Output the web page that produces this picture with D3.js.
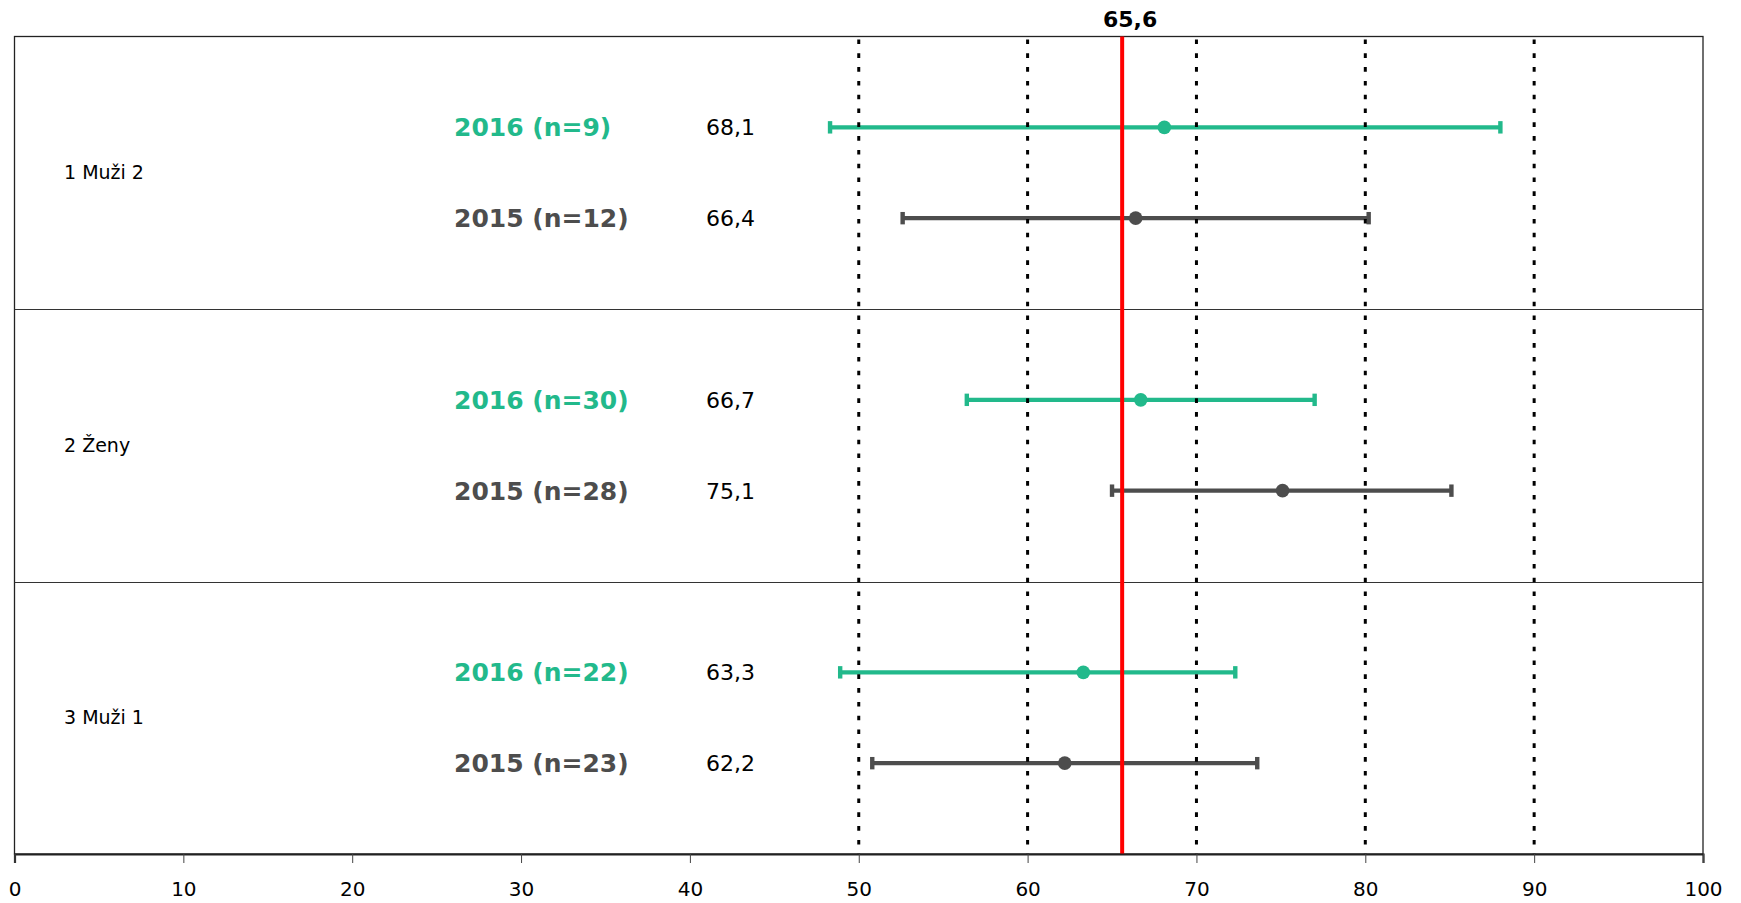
<!DOCTYPE html>
<html><head><meta charset="utf-8">
<script src="https://cdn.jsdelivr.net/npm/d3@7"></script>
<style>
html,body{margin:0;padding:0;background:#fff;}
svg{display:block;font-family:"DejaVu Sans",Verdana,sans-serif;}
</style></head>
<body><svg id="c" width="1741" height="903"></svg>
<script>
// ---- data ----
const groups = ["1 Muži 2", "2 Ženy", "3 Muži 1"];
const years = ["2016", "2015"];
const counts2016 = [9, 30, 22];
const counts2015 = [12, 28, 23];
const mean2016 = [68.1, 66.7, 63.3];
const low2016  = [48.3, 56.4, 48.9];
const high2016 = [88.0, 77.0, 72.3];
const mean2015 = [66.4, 75.1, 62.2];
const low2015  = [52.6, 65.0, 50.8];
const high2015 = [80.2, 85.1, 73.6];
const reference = 65.6;
const gridValues = [50, 60, 70, 80, 90];
const tickValues = [0, 10, 20, 30, 40, 50, 60, 70, 80, 90, 100];

const colors = {"2016": "#22b98b", "2015": "#4d4d4d"};
const fmt = v => d3.format(".1f")(v).replace(".", ",");

const rows = [];
groups.forEach((g, i) => {
  rows.push({group: g, year: "2016", n: counts2016[i], mean: mean2016[i], lo: low2016[i], hi: high2016[i]});
  rows.push({group: g, year: "2015", n: counts2015[i], mean: mean2015[i], lo: low2015[i], hi: high2015[i]});
});

const svg = d3.select("#c");
const L = 14.5, R = 1703, T = 36.5, B = 854;
const x = d3.scaleLinear().domain([0, 100]).range([L, R]);
const yBand = d3.scaleBand().domain(groups).range([T, B]).padding(0);
const ySub = d3.scalePoint().domain(years).range([yBand.bandwidth() / 3, yBand.bandwidth() * 2 / 3]);
const yOf = d => yBand(d.group) + ySub(d.year);

// frame
svg.append("rect").attr("x", L).attr("y", T).attr("width", R - L).attr("height", B - T)
  .attr("fill", "none").attr("stroke", "#222").attr("stroke-width", 1.3);
// band separators
svg.selectAll(".sep").data(groups.slice(1)).join("line")
  .attr("x1", L).attr("x2", R)
  .attr("y1", d => Math.round(yBand(d)) + 0.5).attr("y2", d => Math.round(yBand(d)) + 0.5)
  .attr("stroke", "#333").attr("stroke-width", 1.2);

// group labels
svg.selectAll(".glab").data(groups).join("text")
  .attr("x", 64).attr("y", d => yBand(d) + yBand.bandwidth() / 2)
  .attr("dy", "0.35em").attr("font-size", 19).attr("fill", "#000").text(d => d);

// row labels
svg.selectAll(".rlab").data(rows).join("text")
  .attr("x", 454).attr("y", yOf).attr("dy", "0.36em")
  .attr("font-size", 25).attr("font-weight", "bold")
  .attr("fill", d => colors[d.year])
  .text(d => `${d.year} (n=${d.n})`);
svg.selectAll(".vlab").data(rows).join("text")
  .attr("x", 706).attr("y", yOf).attr("dy", "0.36em")
  .attr("font-size", 22).attr("fill", "#000")
  .text(d => fmt(d.mean));

// error bars
const eb = svg.selectAll(".eb").data(rows).join("g");
eb.append("line")
  .attr("x1", d => x(d.lo)).attr("x2", d => x(d.hi))
  .attr("y1", yOf).attr("y2", yOf)
  .attr("stroke", d => colors[d.year]).attr("stroke-width", 4.3);
eb.append("rect").attr("x", d => x(d.lo) - 2.2).attr("y", d => yOf(d) - 6.2)
  .attr("width", 4.4).attr("height", 12.4).attr("fill", d => colors[d.year]);
eb.append("rect").attr("x", d => x(d.hi) - 2.2).attr("y", d => yOf(d) - 6.2)
  .attr("width", 4.4).attr("height", 12.4).attr("fill", d => colors[d.year]);

// dotted grid
svg.selectAll(".grid").data(gridValues).join("line")
  .attr("x1", d => x(d)).attr("x2", d => x(d))
  .attr("y1", T + 3).attr("y2", B)
  .attr("stroke", "#000").attr("stroke-width", 3)
  .attr("stroke-dasharray", "4.6,9.2");

// reference line
svg.append("line").attr("x1", x(reference)).attr("x2", x(reference))
  .attr("y1", T).attr("y2", B).attr("stroke", "#ff0000").attr("stroke-width", 4);
svg.append("text").attr("x", x(reference) + 8).attr("y", 19).attr("dy", "0.35em")
  .attr("text-anchor", "middle").attr("font-size", 22).attr("font-weight", "bold")
  .text(fmt(reference));

// markers
svg.selectAll(".mk").data(rows).join("circle")
  .attr("cx", d => x(d.mean)).attr("cy", yOf).attr("r", 6.8)
  .attr("fill", d => colors[d.year]);

// x axis
const ax = svg.append("g").attr("transform", `translate(0,${B})`)
  .call(d3.axisBottom(x).tickValues(tickValues).tickSize(9).tickPadding(19).tickFormat(d3.format("d")));
ax.select(".domain").attr("stroke", "#222").attr("stroke-width", 2.2);
ax.selectAll(".tick line").attr("stroke", "#444").attr("stroke-width", 1);
ax.selectAll("text").attr("font-size", 20).attr("fill", "#000")
  .attr("font-family", "DejaVu Sans, Verdana, sans-serif");
</script></body></html>
